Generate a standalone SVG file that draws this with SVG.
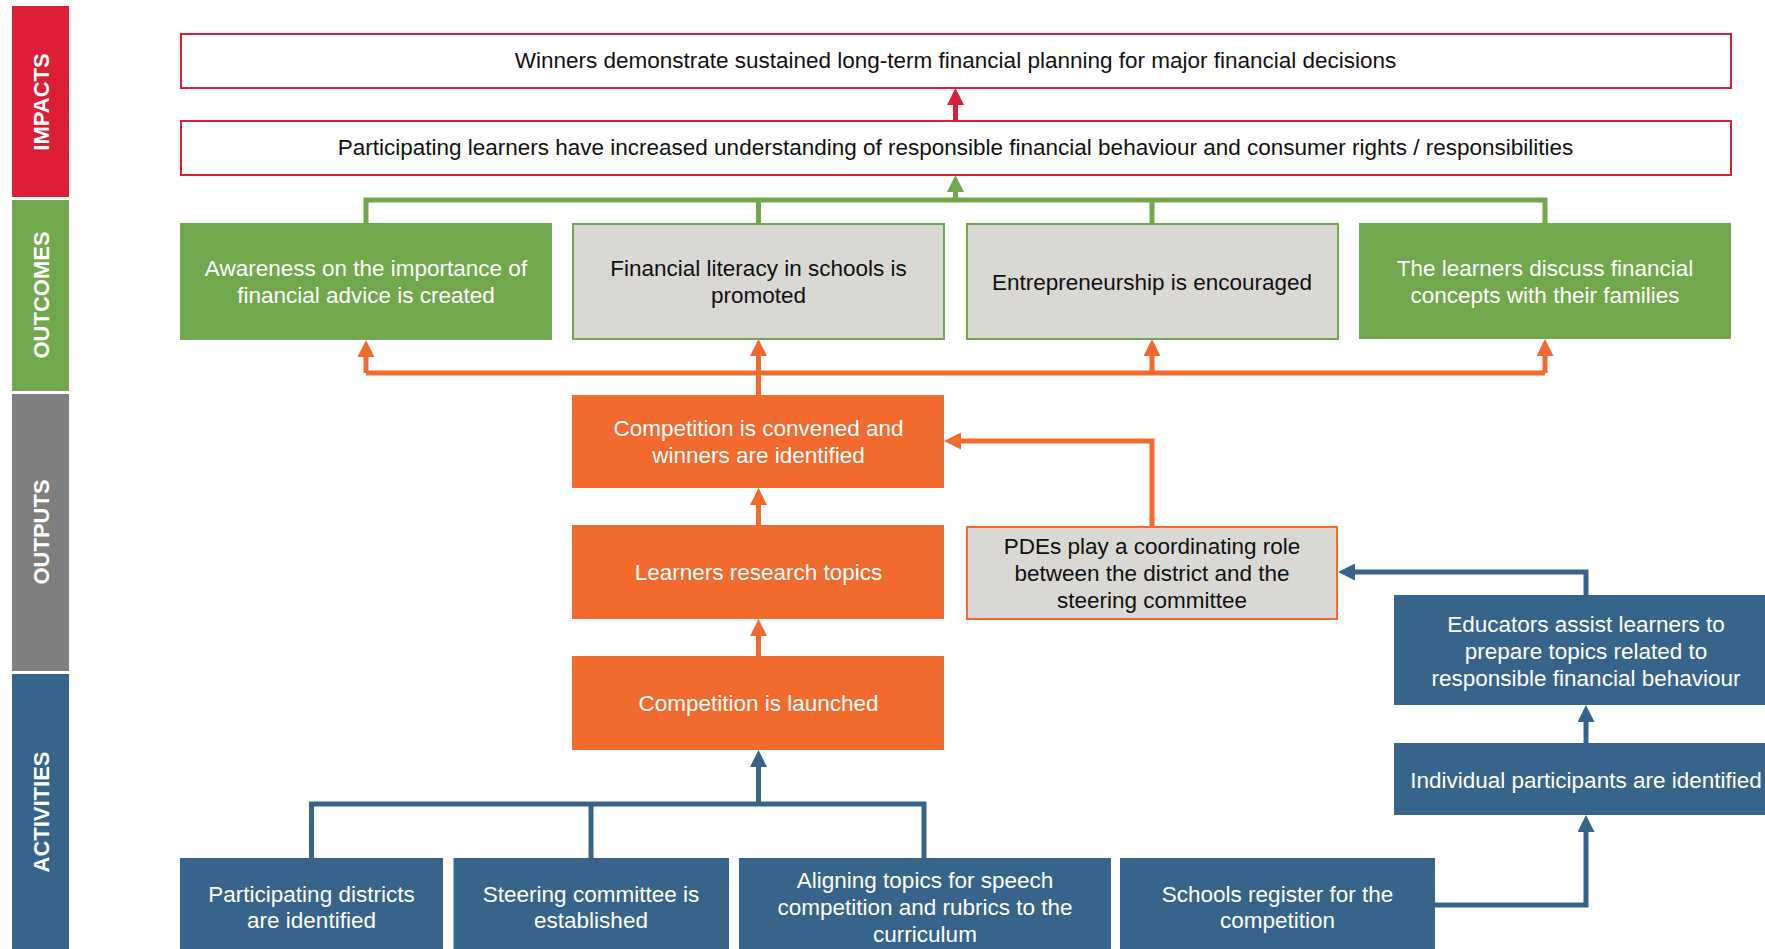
<svg xmlns="http://www.w3.org/2000/svg" width="1765" height="949" viewBox="0 0 1765 949">
<style>
text{font-family:"Liberation Sans",Arial,sans-serif;font-size:22.5px;text-anchor:middle}
.w{fill:#fff}.k{fill:#111}
.lbl{font-weight:bold;font-size:22px;fill:#fff}
.red{fill:#DC1E36}.grn{fill:#71A84D}.gry{fill:#7F7F7F}.blu{fill:#37648B}.org{fill:#F26A2E}
.imp{fill:#fff;stroke:#DC1E36;stroke-width:2}
.gbox{fill:#D9D8D4;stroke:#71A84D;stroke-width:2}
.obox{fill:#D9D8D4;stroke:#F26A2E;stroke-width:2}
.c{fill:none;stroke-width:5}
.cr{stroke:#DC1E36}.cg{stroke:#71A84D}.co{stroke:#F26A2E}.cb{stroke:#37648B}
</style>
<defs>
<marker id="ar" markerUnits="userSpaceOnUse" markerWidth="17" markerHeight="17" refX="0" refY="8.5" orient="auto"><path d="M0,0 L17,8.5 L0,17 z" fill="#DC1E36"/></marker>
<marker id="ag" markerUnits="userSpaceOnUse" markerWidth="17" markerHeight="17" refX="0" refY="8.5" orient="auto"><path d="M0,0 L17,8.5 L0,17 z" fill="#71A84D"/></marker>
<marker id="ao" markerUnits="userSpaceOnUse" markerWidth="17" markerHeight="17" refX="0" refY="8.5" orient="auto"><path d="M0,0 L17,8.5 L0,17 z" fill="#F26A2E"/></marker>
<marker id="ab" markerUnits="userSpaceOnUse" markerWidth="17" markerHeight="17" refX="0" refY="8.5" orient="auto"><path d="M0,0 L17,8.5 L0,17 z" fill="#37648B"/></marker>
</defs>
<rect width="1765" height="949" fill="#fff"/>

<g id="bands">
<rect class="red" x="12" y="6" width="57" height="191"/>
<rect class="grn" x="12" y="200" width="57" height="191"/>
<rect class="gry" x="12" y="394" width="57" height="277"/>
<rect class="blu" x="12" y="674" width="57" height="280"/>
<text class="lbl" transform="translate(49,102) rotate(-90)">IMPACTS</text>
<text class="lbl" transform="translate(49,295) rotate(-90)">OUTCOMES</text>
<text class="lbl" transform="translate(49,532) rotate(-90)">OUTPUTS</text>
<text class="lbl" transform="translate(49,812) rotate(-90)">ACTIVITIES</text>
</g>

<g id="connectors">
<path class="c cr" d="M955.5,121 V105" marker-end="url(#ar)"/>
<path class="c cg" d="M366,223 V200 H1545 V223 M758.5,223 V200 M1152,223 V200"/>
<path class="c cg" d="M955.5,202 V192" marker-end="url(#ag)"/>
<path class="c co" d="M366,373 H1545"/>
<path class="c co" d="M366,373 V357" marker-end="url(#ao)"/>
<path class="c co" d="M758.5,395 V356" marker-end="url(#ao)"/>
<path class="c co" d="M1152,373 V356" marker-end="url(#ao)"/>
<path class="c co" d="M1545,373 V356" marker-end="url(#ao)"/>
<path class="c co" d="M758.5,525 V505" marker-end="url(#ao)"/>
<path class="c co" d="M758.5,656 V636" marker-end="url(#ao)"/>
<path class="c co" d="M1152,526 V441 H961" marker-end="url(#ao)"/>
<path class="c cb" d="M311.5,858 V804 H924 V858 M591,858 V804"/>
<path class="c cb" d="M758.5,806 V767" marker-end="url(#ab)"/>
<path class="c cb" d="M1435,905 H1586 V832" marker-end="url(#ab)"/>
<path class="c cb" d="M1586,743 V722" marker-end="url(#ab)"/>
<path class="c cb" d="M1586,595 V572 H1355" marker-end="url(#ab)"/>
</g>

<g id="impact-long">
<rect class="imp" x="181" y="34" width="1550" height="54"/>
<text class="k" x="955.5" y="68">Winners demonstrate sustained long-term financial planning for major financial decisions</text>
</g>
<g id="impact-understanding">
<rect class="imp" x="181" y="121" width="1550" height="54"/>
<text class="k" x="955.5" y="155">Participating learners have increased understanding of responsible financial behaviour and consumer rights / responsibilities</text>
</g>

<g id="outcome-awareness">
<rect class="grn" x="180" y="223" width="372" height="117"/>
<text class="w" x="366" y="276">Awareness on the importance of</text>
<text class="w" x="366" y="303">financial advice is created</text>
</g>
<g id="outcome-literacy">
<rect class="gbox" x="573" y="224" width="371" height="115"/>
<text class="k" x="758.5" y="276">Financial literacy in schools is</text>
<text class="k" x="758.5" y="303">promoted</text>
</g>
<g id="outcome-entrepreneurship">
<rect class="gbox" x="967" y="224" width="371" height="115"/>
<text class="k" x="1152" y="289.5">Entrepreneurship is encouraged</text>
</g>
<g id="outcome-families">
<rect class="grn" x="1359" y="223" width="372" height="116"/>
<text class="w" x="1545" y="276">The learners discuss financial</text>
<text class="w" x="1545" y="303">concepts with their families</text>
</g>

<g id="output-convened">
<rect class="org" x="572" y="395" width="372" height="93"/>
<text class="w" x="758.5" y="436">Competition is convened and</text>
<text class="w" x="758.5" y="463">winners are identified</text>
</g>
<g id="output-research">
<rect class="org" x="572" y="525" width="372" height="94"/>
<text class="w" x="758.5" y="580">Learners research topics</text>
</g>
<g id="output-launched">
<rect class="org" x="572" y="656" width="372" height="94"/>
<text class="w" x="758.5" y="711">Competition is launched</text>
</g>
<g id="output-pdes">
<rect class="obox" x="967" y="527" width="370" height="92"/>
<text class="k" x="1152" y="554">PDEs play a coordinating role</text>
<text class="k" x="1152" y="581">between the district and the</text>
<text class="k" x="1152" y="608">steering committee</text>
</g>

<g id="activity-educators">
<rect class="blu" x="1394" y="595" width="390" height="110"/>
<text class="w" x="1586" y="632">Educators assist learners to</text>
<text class="w" x="1586" y="659">prepare topics related to</text>
<text class="w" x="1586" y="686">responsible financial behaviour</text>
</g>
<g id="activity-individual">
<rect class="blu" x="1394" y="743" width="390" height="72"/>
<text class="w" x="1586" y="788">Individual participants are identified</text>
</g>
<g id="activity-districts">
<rect class="blu" x="180" y="858" width="263" height="100"/>
<text class="w" x="311.5" y="902">Participating districts</text>
<text class="w" x="311.5" y="928">are identified</text>
</g>
<g id="activity-steering">
<rect class="blu" x="453.5" y="858" width="275.5" height="100"/>
<text class="w" x="591" y="902">Steering committee is</text>
<text class="w" x="591" y="928">established</text>
</g>
<g id="activity-aligning">
<rect class="blu" x="739" y="858" width="372" height="100"/>
<text class="w" x="925" y="888">Aligning topics for speech</text>
<text class="w" x="925" y="915">competition and rubrics to the</text>
<text class="w" x="925" y="942">curriculum</text>
</g>
<g id="activity-schools">
<rect class="blu" x="1120" y="858" width="315" height="100"/>
<text class="w" x="1277.5" y="902">Schools register for the</text>
<text class="w" x="1277.5" y="928">competition</text>
</g>
</svg>
